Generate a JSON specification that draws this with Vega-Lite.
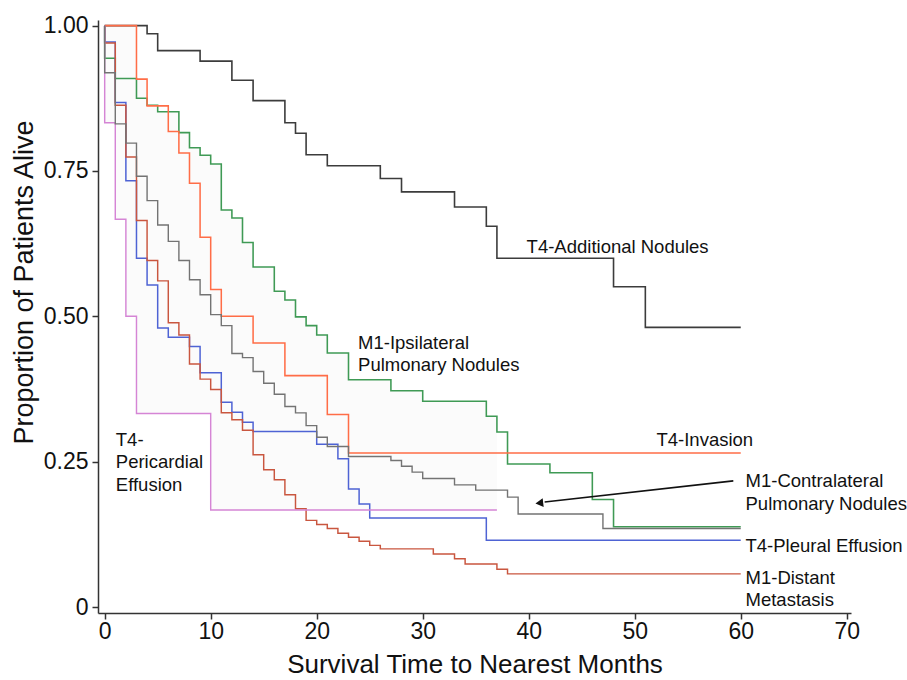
{
  "$schema": "https://vega.github.io/schema/vega-lite/v6.json",
  "width": 753,
  "height": 593,
  "autosize": {"type": "none"},
  "padding": {"left": 98, "top": 20, "right": 56, "bottom": 67},
  "background": "white",
  "config": {
    "view": {"stroke": null},
    "font": "Liberation Sans",
    "axisX": {
      "grid": false,
      "domainColor": "#333333", "domainWidth": 1.5,
      "tickColor": "#333333", "tickWidth": 1.5, "tickSize": 6,
      "labelFontSize": 23, "labelColor": "#111111", "labelPadding": 1,
      "labelFont": "Liberation Sans",
      "titleFontSize": 26, "titleFontWeight": "normal", "titleColor": "#111111",
      "titleFont": "Liberation Sans", "titlePadding": 8
    },
    "axisY": {
      "grid": false,
      "domainColor": "#333333", "domainWidth": 1.5,
      "tickColor": "#333333", "tickWidth": 1.5, "tickSize": 6,
      "labelFontSize": 23, "labelColor": "#111111", "labelPadding": 4,
      "labelFont": "Liberation Sans",
      "titleFontSize": 27, "titleFontWeight": "normal", "titleColor": "#111111",
      "titleFont": "Liberation Sans", "titlePadding": 5
    }
  },
  "datasets": {
    "band": [
      {"t": 0, "hi": 1.0, "lo": 0.833},
      {"t": 1, "hi": 1.0, "lo": 0.667},
      {"t": 2, "hi": 1.0, "lo": 0.5},
      {"t": 3, "hi": 0.908, "lo": 0.333},
      {"t": 4, "hi": 0.863, "lo": 0.333},
      {"t": 5, "hi": 0.852, "lo": 0.333},
      {"t": 7, "hi": 0.816, "lo": 0.333},
      {"t": 8, "hi": 0.79, "lo": 0.333},
      {"t": 9, "hi": 0.777, "lo": 0.333},
      {"t": 10, "hi": 0.762, "lo": 0.167},
      {"t": 11, "hi": 0.683, "lo": 0.167},
      {"t": 12, "hi": 0.669, "lo": 0.167},
      {"t": 13, "hi": 0.627, "lo": 0.167},
      {"t": 14, "hi": 0.585, "lo": 0.167},
      {"t": 16, "hi": 0.543, "lo": 0.167},
      {"t": 17, "hi": 0.528, "lo": 0.167},
      {"t": 18, "hi": 0.499, "lo": 0.167},
      {"t": 19, "hi": 0.484, "lo": 0.167},
      {"t": 20, "hi": 0.468, "lo": 0.167},
      {"t": 21, "hi": 0.437, "lo": 0.167},
      {"t": 23, "hi": 0.391, "lo": 0.167},
      {"t": 27, "hi": 0.372, "lo": 0.167},
      {"t": 30, "hi": 0.354, "lo": 0.167},
      {"t": 36, "hi": 0.328, "lo": 0.167},
      {"t": 37, "hi": 0.328, "lo": 0.167}
    ],
    "curves": [
      {"g": "T4-Additional Nodules", "t": 0, "v": 1.0},
      {"g": "T4-Additional Nodules", "t": 4, "v": 0.986},
      {"g": "T4-Additional Nodules", "t": 5, "v": 0.957},
      {"g": "T4-Additional Nodules", "t": 9, "v": 0.939},
      {"g": "T4-Additional Nodules", "t": 12, "v": 0.906},
      {"g": "T4-Additional Nodules", "t": 14, "v": 0.871},
      {"g": "T4-Additional Nodules", "t": 17, "v": 0.833},
      {"g": "T4-Additional Nodules", "t": 18, "v": 0.815},
      {"g": "T4-Additional Nodules", "t": 19, "v": 0.778},
      {"g": "T4-Additional Nodules", "t": 21, "v": 0.759},
      {"g": "T4-Additional Nodules", "t": 26, "v": 0.737},
      {"g": "T4-Additional Nodules", "t": 28, "v": 0.714},
      {"g": "T4-Additional Nodules", "t": 33, "v": 0.688},
      {"g": "T4-Additional Nodules", "t": 36, "v": 0.655},
      {"g": "T4-Additional Nodules", "t": 37, "v": 0.6},
      {"g": "T4-Additional Nodules", "t": 48, "v": 0.551},
      {"g": "T4-Additional Nodules", "t": 51, "v": 0.481},
      {"g": "T4-Additional Nodules", "t": 60, "v": 0.481},

      {"g": "M1-Ipsilateral Pulmonary Nodules", "t": 0, "v": 1.0},
      {"g": "M1-Ipsilateral Pulmonary Nodules", "t": 0, "v": 0.944},
      {"g": "M1-Ipsilateral Pulmonary Nodules", "t": 1, "v": 0.909},
      {"g": "M1-Ipsilateral Pulmonary Nodules", "t": 3, "v": 0.875},
      {"g": "M1-Ipsilateral Pulmonary Nodules", "t": 4, "v": 0.863},
      {"g": "M1-Ipsilateral Pulmonary Nodules", "t": 5, "v": 0.852},
      {"g": "M1-Ipsilateral Pulmonary Nodules", "t": 7, "v": 0.816},
      {"g": "M1-Ipsilateral Pulmonary Nodules", "t": 8, "v": 0.79},
      {"g": "M1-Ipsilateral Pulmonary Nodules", "t": 9, "v": 0.777},
      {"g": "M1-Ipsilateral Pulmonary Nodules", "t": 10, "v": 0.762},
      {"g": "M1-Ipsilateral Pulmonary Nodules", "t": 11, "v": 0.683},
      {"g": "M1-Ipsilateral Pulmonary Nodules", "t": 12, "v": 0.669},
      {"g": "M1-Ipsilateral Pulmonary Nodules", "t": 13, "v": 0.627},
      {"g": "M1-Ipsilateral Pulmonary Nodules", "t": 14, "v": 0.585},
      {"g": "M1-Ipsilateral Pulmonary Nodules", "t": 16, "v": 0.543},
      {"g": "M1-Ipsilateral Pulmonary Nodules", "t": 17, "v": 0.528},
      {"g": "M1-Ipsilateral Pulmonary Nodules", "t": 18, "v": 0.499},
      {"g": "M1-Ipsilateral Pulmonary Nodules", "t": 19, "v": 0.484},
      {"g": "M1-Ipsilateral Pulmonary Nodules", "t": 20, "v": 0.468},
      {"g": "M1-Ipsilateral Pulmonary Nodules", "t": 21, "v": 0.437},
      {"g": "M1-Ipsilateral Pulmonary Nodules", "t": 23, "v": 0.391},
      {"g": "M1-Ipsilateral Pulmonary Nodules", "t": 27, "v": 0.372},
      {"g": "M1-Ipsilateral Pulmonary Nodules", "t": 30, "v": 0.354},
      {"g": "M1-Ipsilateral Pulmonary Nodules", "t": 36, "v": 0.328},
      {"g": "M1-Ipsilateral Pulmonary Nodules", "t": 37, "v": 0.301},
      {"g": "M1-Ipsilateral Pulmonary Nodules", "t": 38, "v": 0.246},
      {"g": "M1-Ipsilateral Pulmonary Nodules", "t": 42, "v": 0.231},
      {"g": "M1-Ipsilateral Pulmonary Nodules", "t": 46, "v": 0.185},
      {"g": "M1-Ipsilateral Pulmonary Nodules", "t": 48, "v": 0.138},
      {"g": "M1-Ipsilateral Pulmonary Nodules", "t": 60, "v": 0.138},

      {"g": "T4-Invasion", "t": 0, "v": 1.0},
      {"g": "T4-Invasion", "t": 3, "v": 0.908},
      {"g": "T4-Invasion", "t": 4, "v": 0.862},
      {"g": "T4-Invasion", "t": 6, "v": 0.818},
      {"g": "T4-Invasion", "t": 7, "v": 0.781},
      {"g": "T4-Invasion", "t": 8, "v": 0.729},
      {"g": "T4-Invasion", "t": 9, "v": 0.636},
      {"g": "T4-Invasion", "t": 10, "v": 0.546},
      {"g": "T4-Invasion", "t": 11, "v": 0.5},
      {"g": "T4-Invasion", "t": 14, "v": 0.454},
      {"g": "T4-Invasion", "t": 17, "v": 0.398},
      {"g": "T4-Invasion", "t": 21, "v": 0.331},
      {"g": "T4-Invasion", "t": 23, "v": 0.265},
      {"g": "T4-Invasion", "t": 60, "v": 0.265},

      {"g": "T4-Pleural Effusion", "t": 0, "v": 1.0},
      {"g": "T4-Pleural Effusion", "t": 0, "v": 0.972},
      {"g": "T4-Pleural Effusion", "t": 1, "v": 0.868},
      {"g": "T4-Pleural Effusion", "t": 2, "v": 0.733},
      {"g": "T4-Pleural Effusion", "t": 3, "v": 0.6},
      {"g": "T4-Pleural Effusion", "t": 4, "v": 0.554},
      {"g": "T4-Pleural Effusion", "t": 5, "v": 0.48},
      {"g": "T4-Pleural Effusion", "t": 6, "v": 0.464},
      {"g": "T4-Pleural Effusion", "t": 8, "v": 0.448},
      {"g": "T4-Pleural Effusion", "t": 9, "v": 0.403},
      {"g": "T4-Pleural Effusion", "t": 11, "v": 0.352},
      {"g": "T4-Pleural Effusion", "t": 12, "v": 0.335},
      {"g": "T4-Pleural Effusion", "t": 13, "v": 0.318},
      {"g": "T4-Pleural Effusion", "t": 14, "v": 0.302},
      {"g": "T4-Pleural Effusion", "t": 20, "v": 0.28},
      {"g": "T4-Pleural Effusion", "t": 22, "v": 0.255},
      {"g": "T4-Pleural Effusion", "t": 23, "v": 0.203},
      {"g": "T4-Pleural Effusion", "t": 24, "v": 0.177},
      {"g": "T4-Pleural Effusion", "t": 25, "v": 0.153},
      {"g": "T4-Pleural Effusion", "t": 36, "v": 0.115},
      {"g": "T4-Pleural Effusion", "t": 60, "v": 0.115},

      {"g": "M1-Distant Metastasis", "t": 0, "v": 1.0},
      {"g": "M1-Distant Metastasis", "t": 0, "v": 0.97},
      {"g": "M1-Distant Metastasis", "t": 1, "v": 0.863},
      {"g": "M1-Distant Metastasis", "t": 2, "v": 0.774},
      {"g": "M1-Distant Metastasis", "t": 3, "v": 0.665},
      {"g": "M1-Distant Metastasis", "t": 4, "v": 0.596},
      {"g": "M1-Distant Metastasis", "t": 5, "v": 0.561},
      {"g": "M1-Distant Metastasis", "t": 6, "v": 0.489},
      {"g": "M1-Distant Metastasis", "t": 7, "v": 0.468},
      {"g": "M1-Distant Metastasis", "t": 8, "v": 0.418},
      {"g": "M1-Distant Metastasis", "t": 9, "v": 0.392},
      {"g": "M1-Distant Metastasis", "t": 10, "v": 0.374},
      {"g": "M1-Distant Metastasis", "t": 11, "v": 0.334},
      {"g": "M1-Distant Metastasis", "t": 12, "v": 0.322},
      {"g": "M1-Distant Metastasis", "t": 13, "v": 0.304},
      {"g": "M1-Distant Metastasis", "t": 14, "v": 0.262},
      {"g": "M1-Distant Metastasis", "t": 15, "v": 0.236},
      {"g": "M1-Distant Metastasis", "t": 16, "v": 0.219},
      {"g": "M1-Distant Metastasis", "t": 17, "v": 0.193},
      {"g": "M1-Distant Metastasis", "t": 18, "v": 0.169},
      {"g": "M1-Distant Metastasis", "t": 19, "v": 0.149},
      {"g": "M1-Distant Metastasis", "t": 20, "v": 0.142},
      {"g": "M1-Distant Metastasis", "t": 21, "v": 0.135},
      {"g": "M1-Distant Metastasis", "t": 22, "v": 0.127},
      {"g": "M1-Distant Metastasis", "t": 23, "v": 0.12},
      {"g": "M1-Distant Metastasis", "t": 24, "v": 0.113},
      {"g": "M1-Distant Metastasis", "t": 25, "v": 0.106},
      {"g": "M1-Distant Metastasis", "t": 26, "v": 0.1},
      {"g": "M1-Distant Metastasis", "t": 31, "v": 0.091},
      {"g": "M1-Distant Metastasis", "t": 33, "v": 0.083},
      {"g": "M1-Distant Metastasis", "t": 34, "v": 0.074},
      {"g": "M1-Distant Metastasis", "t": 37, "v": 0.065},
      {"g": "M1-Distant Metastasis", "t": 38, "v": 0.057},
      {"g": "M1-Distant Metastasis", "t": 60, "v": 0.057},

      {"g": "T4-Pericardial Effusion", "t": 0, "v": 1.0},
      {"g": "T4-Pericardial Effusion", "t": 0, "v": 0.833},
      {"g": "T4-Pericardial Effusion", "t": 1, "v": 0.667},
      {"g": "T4-Pericardial Effusion", "t": 2, "v": 0.5},
      {"g": "T4-Pericardial Effusion", "t": 3, "v": 0.333},
      {"g": "T4-Pericardial Effusion", "t": 10, "v": 0.167},
      {"g": "T4-Pericardial Effusion", "t": 37, "v": 0.167},

      {"g": "M1-Contralateral Pulmonary Nodules", "t": 0, "v": 1.0},
      {"g": "M1-Contralateral Pulmonary Nodules", "t": 0, "v": 0.919},
      {"g": "M1-Contralateral Pulmonary Nodules", "t": 1, "v": 0.831},
      {"g": "M1-Contralateral Pulmonary Nodules", "t": 2, "v": 0.798},
      {"g": "M1-Contralateral Pulmonary Nodules", "t": 3, "v": 0.741},
      {"g": "M1-Contralateral Pulmonary Nodules", "t": 4, "v": 0.699},
      {"g": "M1-Contralateral Pulmonary Nodules", "t": 5, "v": 0.657},
      {"g": "M1-Contralateral Pulmonary Nodules", "t": 6, "v": 0.629},
      {"g": "M1-Contralateral Pulmonary Nodules", "t": 7, "v": 0.596},
      {"g": "M1-Contralateral Pulmonary Nodules", "t": 8, "v": 0.563},
      {"g": "M1-Contralateral Pulmonary Nodules", "t": 9, "v": 0.537},
      {"g": "M1-Contralateral Pulmonary Nodules", "t": 10, "v": 0.503},
      {"g": "M1-Contralateral Pulmonary Nodules", "t": 11, "v": 0.484},
      {"g": "M1-Contralateral Pulmonary Nodules", "t": 12, "v": 0.436},
      {"g": "M1-Contralateral Pulmonary Nodules", "t": 13, "v": 0.429},
      {"g": "M1-Contralateral Pulmonary Nodules", "t": 14, "v": 0.405},
      {"g": "M1-Contralateral Pulmonary Nodules", "t": 15, "v": 0.385},
      {"g": "M1-Contralateral Pulmonary Nodules", "t": 16, "v": 0.366},
      {"g": "M1-Contralateral Pulmonary Nodules", "t": 17, "v": 0.345},
      {"g": "M1-Contralateral Pulmonary Nodules", "t": 18, "v": 0.334},
      {"g": "M1-Contralateral Pulmonary Nodules", "t": 19, "v": 0.312},
      {"g": "M1-Contralateral Pulmonary Nodules", "t": 20, "v": 0.292},
      {"g": "M1-Contralateral Pulmonary Nodules", "t": 21, "v": 0.276},
      {"g": "M1-Contralateral Pulmonary Nodules", "t": 23, "v": 0.259},
      {"g": "M1-Contralateral Pulmonary Nodules", "t": 27, "v": 0.252},
      {"g": "M1-Contralateral Pulmonary Nodules", "t": 28, "v": 0.242},
      {"g": "M1-Contralateral Pulmonary Nodules", "t": 29, "v": 0.232},
      {"g": "M1-Contralateral Pulmonary Nodules", "t": 30, "v": 0.221},
      {"g": "M1-Contralateral Pulmonary Nodules", "t": 33, "v": 0.21},
      {"g": "M1-Contralateral Pulmonary Nodules", "t": 35, "v": 0.201},
      {"g": "M1-Contralateral Pulmonary Nodules", "t": 38, "v": 0.189},
      {"g": "M1-Contralateral Pulmonary Nodules", "t": 39, "v": 0.16},
      {"g": "M1-Contralateral Pulmonary Nodules", "t": 47, "v": 0.135},
      {"g": "M1-Contralateral Pulmonary Nodules", "t": 60, "v": 0.135}
    ],
    "labels": [
      {"label": "T4-Additional Nodules", "t": 39.8, "v": 0.62},
      {"label": "M1-Ipsilateral", "t": 23.9, "v": 0.454},
      {"label": "Pulmonary Nodules", "t": 23.9, "v": 0.416},
      {"label": "T4-Invasion", "t": 52.05, "v": 0.2865},
      {"label": "M1-Contralateral", "t": 60.45, "v": 0.216},
      {"label": "Pulmonary Nodules", "t": 60.45, "v": 0.178},
      {"label": "T4-Pleural Effusion", "t": 60.45, "v": 0.105},
      {"label": "M1-Distant", "t": 60.45, "v": 0.05},
      {"label": "Metastasis", "t": 60.45, "v": 0.0126},
      {"label": "T4-", "t": 1.05, "v": 0.2877},
      {"label": "Pericardial", "t": 1.05, "v": 0.2487},
      {"label": "Effusion", "t": 1.05, "v": 0.2102}
    ],
    "arrow": [
      {"t": 59.3, "v": 0.217, "t2": 41.5, "v2": 0.1805}
    ],
    "head": [
      {"t": 41.0, "v": 0.1787}
    ]
  },
  "layer": [
    {
      "data": {"name": "band"},
      "mark": {"type": "area", "interpolate": "step-after", "color": "#fbfbfb"},
      "encoding": {
        "x": {
          "field": "t", "type": "quantitative",
          "title": "Survival Time to Nearest Months",
          "scale": {"domain": [-0.63, 70.4], "nice": false, "zero": false},
          "axis": {"values": [0, 10, 20, 30, 40, 50, 60, 70], "format": "d"}
        },
        "y": {
          "field": "hi", "type": "quantitative",
          "title": "Proportion of Patients Alive",
          "scale": {"domain": [-0.0103, 1.0097], "nice": false, "zero": false},
          "axis": {
            "values": [0, 0.25, 0.5, 0.75, 1],
            "labelExpr": "datum.value == 0 ? '0' : format(datum.value, '.2f')",
            "titleY": 262
          }
        },
        "y2": {"field": "lo"}
      }
    },
    {
      "data": {"name": "curves"},
      "mark": {"type": "line", "interpolate": "step-after"},
      "encoding": {
        "x": {"field": "t", "type": "quantitative", "title": "Survival Time to Nearest Months"},
        "y": {"field": "v", "type": "quantitative", "title": "Proportion of Patients Alive"},
        "color": {
          "field": "g", "type": "nominal", "legend": null,
          "scale": {
            "domain": ["T4-Additional Nodules", "M1-Ipsilateral Pulmonary Nodules", "T4-Invasion", "T4-Pleural Effusion", "M1-Distant Metastasis", "T4-Pericardial Effusion", "M1-Contralateral Pulmonary Nodules"],
            "range": ["#3c3c3c", "#3f9a55", "#ff6d47", "#4e63d4", "#c9563f", "#d585d5", "#737373"]
          }
        },
        "strokeWidth": {
          "field": "g", "type": "nominal", "legend": null,
          "scale": {
            "domain": ["T4-Additional Nodules", "M1-Ipsilateral Pulmonary Nodules", "T4-Invasion", "T4-Pleural Effusion", "M1-Distant Metastasis", "T4-Pericardial Effusion", "M1-Contralateral Pulmonary Nodules"],
            "range": [1.6, 1.4, 1.4, 1.4, 1.4, 1.4, 2.8]
          }
        },
        "order": {"value": null}
      }
    },
    {
      "data": {"name": "labels"},
      "mark": {"type": "text", "align": "left", "baseline": "middle", "fontSize": 18.5, "font": "Liberation Sans", "color": "#111111"},
      "encoding": {
        "x": {"field": "t", "type": "quantitative", "title": "Survival Time to Nearest Months"},
        "y": {"field": "v", "type": "quantitative", "title": "Proportion of Patients Alive"},
        "text": {"field": "label"}
      }
    },
    {
      "data": {"name": "arrow"},
      "mark": {"type": "rule", "color": "#111111", "strokeWidth": 1.6},
      "encoding": {
        "x": {"field": "t", "type": "quantitative", "title": "Survival Time to Nearest Months"},
        "y": {"field": "v", "type": "quantitative", "title": "Proportion of Patients Alive"},
        "x2": {"field": "t2"},
        "y2": {"field": "v2"}
      }
    },
    {
      "data": {"name": "head"},
      "mark": {"type": "point", "shape": "triangle-left", "filled": true, "color": "#111111", "opacity": 1, "size": 80, "angle": -6.6},
      "encoding": {
        "x": {"field": "t", "type": "quantitative", "title": "Survival Time to Nearest Months"},
        "y": {"field": "v", "type": "quantitative", "title": "Proportion of Patients Alive"}
      }
    }
  ]
}
